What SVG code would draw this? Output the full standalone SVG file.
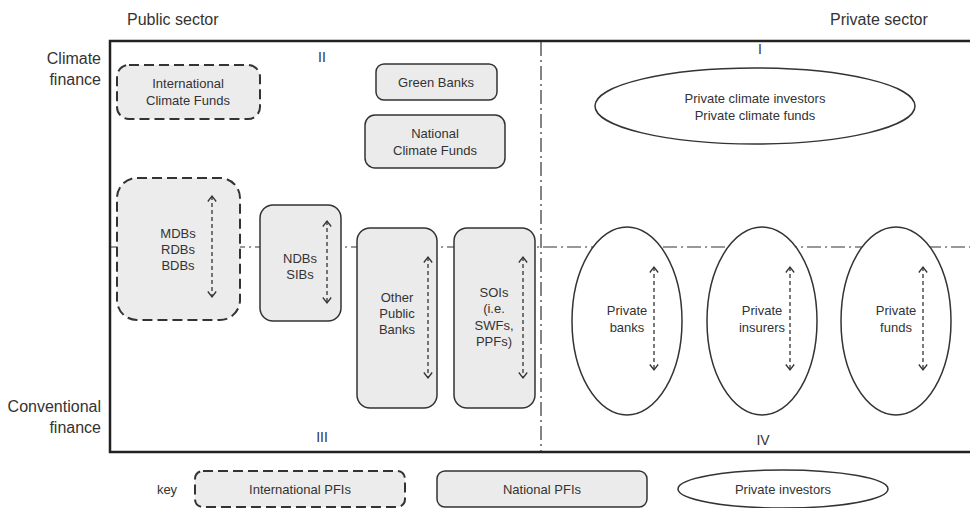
<svg xmlns="http://www.w3.org/2000/svg" width="970" height="508" viewBox="0 0 970 508">
<defs>
<style>
text{font-family:"Liberation Sans",Arial,sans-serif;fill:#333;}
.lab{font-size:16px;}
.num{font-size:14px;text-anchor:middle;}
.t{font-size:13px;text-anchor:middle;}
.intl{fill:#ececec;stroke:#333;stroke-width:2;stroke-dasharray:10 5;}
.nat{fill:#ebebeb;stroke:#333;stroke-width:1.5;}
.priv{fill:#fff;stroke:#333;stroke-width:1.5;}
.axis{fill:none;stroke:#333;stroke-width:1.2;stroke-dasharray:14 4 2 4;}
.frame{fill:none;stroke:#222;stroke-width:2.5;}
.arr{fill:none;stroke:#333;stroke-width:1.3;stroke-dasharray:4 3;marker-start:url(#chev);marker-end:url(#chev);}
</style>
<marker id="chev" markerUnits="userSpaceOnUse" markerWidth="10" markerHeight="12" refX="7.5" refY="6" orient="auto-start-reverse">
<path d="M2,1.8 L7.5,6 L2,10.2" fill="none" stroke="#333" stroke-width="1.3" stroke-dasharray="none"/>
</marker>
</defs>
<rect width="970" height="508" fill="#fff"/>

<g id="labels">
<text class="lab" x="127" y="25">Public sector</text>
<text class="lab" x="830" y="25">Private sector</text>
<text class="lab" x="101" y="64" text-anchor="end">Climate</text>
<text class="lab" x="101" y="85" text-anchor="end">finance</text>
<text class="lab" x="101" y="412" text-anchor="end">Conventional</text>
<text class="lab" x="101" y="433" text-anchor="end">finance</text>
<text class="num" x="760" y="54">I</text>
<text class="num" x="322" y="62">II</text>
<text class="num" x="322" y="442">III</text>
<text class="num" x="763" y="445">IV</text>
</g>

<g id="frame">
<path class="frame" d="M970,41 H110 V452 H970"/>
<line class="axis" x1="541" y1="42" x2="541" y2="451"/>
<line class="axis" x1="111" y1="247" x2="970" y2="247"/>
</g>

<g id="icf">
<rect class="intl" x="117" y="65" width="143" height="54" rx="12"/>
<text class="t" x="188" y="88">International</text>
<text class="t" x="188" y="105">Climate Funds</text>
</g>
<g id="green-banks">
<rect class="nat" x="376" y="64" width="121" height="36" rx="8"/>
<text class="t" x="436" y="87">Green Banks</text>
</g>
<g id="ncf">
<rect class="nat" x="365" y="115" width="140" height="53" rx="10"/>
<text class="t" x="435" y="138">National</text>
<text class="t" x="435" y="155">Climate Funds</text>
</g>
<g id="mdbs">
<rect class="intl" x="117" y="178" width="123" height="142" rx="20"/>
<text class="t" x="178" y="238">MDBs</text>
<text class="t" x="178" y="254">RDBs</text>
<text class="t" x="178" y="270">BDBs</text>
</g>
<g id="ndbs">
<rect class="nat" x="260" y="205" width="81" height="116" rx="13"/>
<text class="t" x="300" y="263">NDBs</text>
<text class="t" x="300" y="279">SIBs</text>
</g>
<g id="other-public-banks">
<rect class="nat" x="357" y="228" width="80" height="180" rx="13"/>
<text class="t" x="397" y="302">Other</text>
<text class="t" x="397" y="318">Public</text>
<text class="t" x="397" y="334">Banks</text>
</g>
<g id="sois">
<rect class="nat" x="454" y="228" width="81" height="180" rx="13"/>
<text class="t" x="494" y="297">SOIs</text>
<text class="t" x="494" y="313">(i.e.</text>
<text class="t" x="494" y="330">SWFs,</text>
<text class="t" x="494" y="346">PPFs)</text>
</g>
<g id="private-climate">
<ellipse class="priv" cx="755" cy="106" rx="160" ry="38"/>
<text class="t" x="755" y="103">Private climate investors</text>
<text class="t" x="755" y="120">Private climate funds</text>
</g>
<g id="private-banks">
<ellipse class="priv" cx="627" cy="321" rx="55" ry="94"/>
<text class="t" x="627" y="315">Private</text>
<text class="t" x="627" y="332">banks</text>
</g>
<g id="private-insurers">
<ellipse class="priv" cx="762" cy="321" rx="55" ry="94"/>
<text class="t" x="762" y="315">Private</text>
<text class="t" x="762" y="332">insurers</text>
</g>
<g id="private-funds">
<ellipse class="priv" cx="896" cy="321" rx="55" ry="94"/>
<text class="t" x="896" y="315">Private</text>
<text class="t" x="896" y="332">funds</text>
</g>

<g id="connectors">
<line class="arr" x1="212" y1="196" x2="212" y2="297"/>
<line class="arr" x1="327" y1="221" x2="327" y2="303"/>
<line class="arr" x1="428" y1="257" x2="428" y2="378"/>
<line class="arr" x1="523" y1="257" x2="523" y2="378"/>
<line class="arr" x1="654" y1="267" x2="654" y2="370"/>
<line class="arr" x1="790" y1="267" x2="790" y2="370"/>
<line class="arr" x1="923" y1="267" x2="923" y2="370"/>
</g>

<g id="key">
<text class="t" x="167" y="494">key</text>
<g id="key-intl">
<rect class="intl" x="195" y="471" width="210" height="36" rx="8"/>
<text class="t" x="300" y="494">International PFIs</text>
</g>
<g id="key-nat">
<rect class="nat" x="437" y="471" width="210" height="36" rx="8"/>
<text class="t" x="542" y="494">National PFIs</text>
</g>
<g id="key-priv">
<ellipse class="priv" cx="783" cy="489" rx="105" ry="19"/>
<text class="t" x="783" y="494">Private investors</text>
</g>
</g>
</svg>
